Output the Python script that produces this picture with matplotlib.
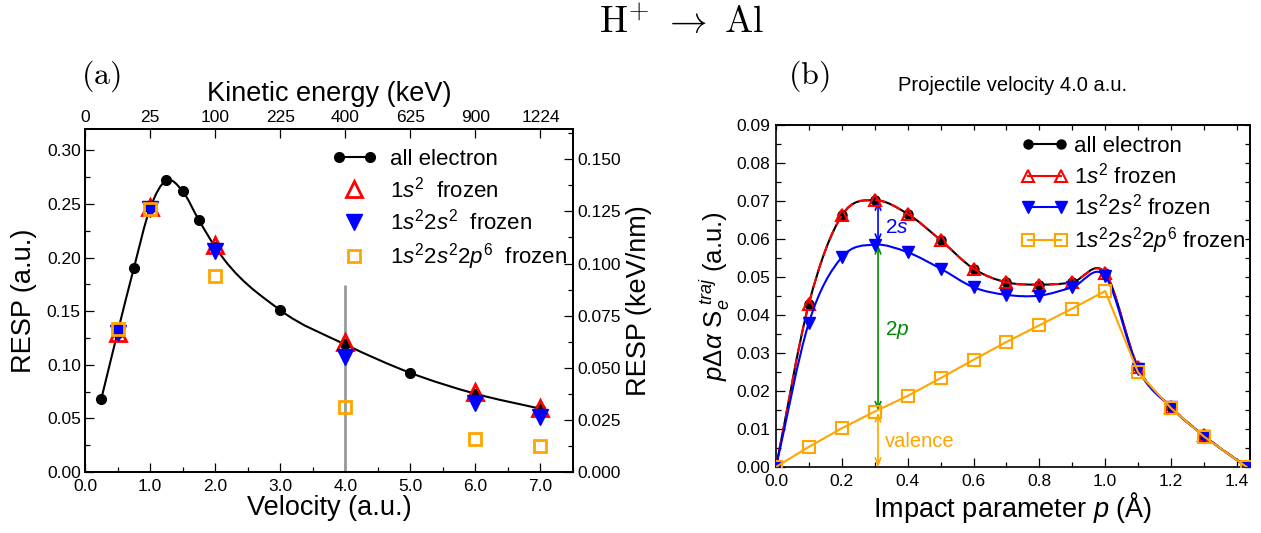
import numpy as np
import matplotlib
matplotlib.use('Agg')
import matplotlib.pyplot as plt
from matplotlib.path import Path
from matplotlib.patches import PathPatch
from matplotlib.lines import Line2D
from matplotlib.legend_handler import HandlerLine2D
from matplotlib.ticker import MultipleLocator, FormatStrFormatter, NullFormatter

# ---- panel (a): RESP vs projectile velocity
velocity_all = [0.25, 0.5, 0.75, 1.0, 1.25, 1.5, 1.75, 2.0, 3.0, 4.0, 5.0, 6.0, 7.0]
resp_all = [0.068, 0.130, 0.190, 0.246, 0.272, 0.262, 0.235, 0.210, 0.151, 0.119, 0.0925, 0.073, 0.059]
velocity_frozen = [0.5, 1.0, 2.0, 4.0, 6.0, 7.0]
resp_1s = [0.130, 0.247, 0.212, 0.121, 0.075, 0.060]
resp_1s2s = [0.130, 0.245, 0.206, 0.107, 0.064, 0.0515]
resp_valence = [0.133, 0.245, 0.183, 0.061, 0.031, 0.024]
energy_tick_velocity = [0, 1, 2, 3, 4, 5, 6, 7]
energy_tick_labels = ['0', '25', '100', '225', '400', '625', '900', '1224']
AU_TO_KEV_NM = 0.5142

# ---- panel (b): impact-parameter resolved stopping at v = 4.0 a.u.
impact = [0.0, 0.1, 0.2, 0.3, 0.4, 0.5, 0.6, 0.7, 0.8, 0.9, 1.0, 1.1, 1.2, 1.3, 1.43]
se_all = [0.0, 0.0430, 0.0662, 0.0702, 0.0666, 0.0597, 0.0522, 0.0486, 0.0480, 0.0486, 0.0511, 0.0262, 0.0157, 0.0082, 0.0]
se_1s = [0.0, 0.0430, 0.0662, 0.0702, 0.0666, 0.0597, 0.0522, 0.0486, 0.0480, 0.0486, 0.0510, 0.0263, 0.0158, 0.0083, 0.0]
se_1s2s = [0.0, 0.0380, 0.0552, 0.0585, 0.0565, 0.0522, 0.0473, 0.0453, 0.0451, 0.0473, 0.0502, 0.0258, 0.0157, 0.0082, 0.0]
se_valence = [0.0, 0.0053, 0.0102, 0.0146, 0.0187, 0.0234, 0.0282, 0.0329, 0.0373, 0.0417, 0.0463, 0.0249, 0.0155, 0.0080, 0.0]

plt.rcParams['font.family'] = ['Liberation Sans', 'DejaVu Sans']
plt.rcParams['mathtext.fontset'] = 'custom'
plt.rcParams['mathtext.rm'] = 'Liberation Sans'
plt.rcParams['mathtext.it'] = 'Liberation Sans:italic'
plt.rcParams['mathtext.bf'] = 'Liberation Sans:bold'
plt.rcParams['axes.linewidth'] = 1.2

RED, BLUE, ORANGE, GREEN = '#ff0000', '#0000ff', '#ffa500', '#008a00'


def smooth_path(x, y):
    """Cubic Hermite curve through the data points, as a Bezier path."""
    x = np.asarray(x, float)
    y = np.asarray(y, float)
    h = np.diff(x)
    d = np.diff(y) / h
    m = np.empty_like(y)
    m[0], m[-1] = d[0], d[-1]
    m[1:-1] = (d[:-1] * h[1:] + d[1:] * h[:-1]) / (h[:-1] + h[1:])
    verts = [(x[0], y[0])]
    codes = [Path.MOVETO]
    for i in range(len(x) - 1):
        verts += [(x[i] + h[i] / 3, y[i] + m[i] * h[i] / 3),
                  (x[i + 1] - h[i] / 3, y[i + 1] - m[i + 1] * h[i] / 3),
                  (x[i + 1], y[i + 1])]
        codes += [Path.CURVE4] * 3
    return Path(verts, codes)


fig = plt.figure(figsize=(12.61, 5.33), dpi=100)
ax = fig.add_axes([85 / 1261, 61 / 533, 488 / 1261, 343 / 533])
bx = fig.add_axes([776 / 1261, 66 / 533, 474 / 1261, 342 / 533])

# ---------------- panel (a)
ax.add_patch(PathPatch(smooth_path(velocity_all, resp_all), fill=False, ec='k', lw=1.5, zorder=3))
ax.plot(velocity_all, resp_all, 'o', color='k', ms=7, zorder=3)
ax.plot(velocity_frozen, resp_1s, '^', mfc='none', mec=RED, ms=12, mew=2, zorder=4)
ax.plot(velocity_frozen, resp_1s2s, 'v', color=BLUE, ms=11, zorder=5)
ax.plot(velocity_frozen, resp_valence, 's', mfc='none', mec=ORANGE, ms=9, mew=2, zorder=6)
ax.vlines(4.0, 0, 0.174, color='#999999', lw=2, zorder=2)

ax.set_xlim(0, 7.5)
ax.set_ylim(0, 0.32)
ax.xaxis.set_major_locator(MultipleLocator(1.0))
ax.xaxis.set_minor_locator(MultipleLocator(0.5))
ax.xaxis.set_major_formatter(FormatStrFormatter('%.1f'))
ax.yaxis.set_major_locator(MultipleLocator(0.05))
ax.yaxis.set_minor_locator(MultipleLocator(0.025))
ax.yaxis.set_major_formatter(FormatStrFormatter('%.2f'))
ax.tick_params(which='both', direction='in', labelsize=12.5, width=0.9)
ax.tick_params(which='major', length=6.5)
ax.tick_params(which='minor', length=3.5)
ax.tick_params(axis='y', pad=3)
ax.tick_params(axis='x', pad=5)
ax.set_xlabel('Velocity (a.u.)', fontsize=19.5, labelpad=1)
ax.set_ylabel('RESP (a.u.)', fontsize=19.5, labelpad=7)

ax_top = ax.twiny()
ax_top.set_xlim(ax.get_xlim())
ax_top.set_xticks(energy_tick_velocity)
ax_top.set_xticklabels(energy_tick_labels)
ax_top.tick_params(direction='in', length=6.5, width=0.9, labelsize=12.5, pad=3)
ax_top.set_xlabel('Kinetic energy (keV)', fontsize=19.5, labelpad=6)

ax_r = ax.twinx()
ax_r.set_ylim(0, 0.32 * AU_TO_KEV_NM)
ax_r.yaxis.set_major_locator(MultipleLocator(0.025))
ax_r.yaxis.set_minor_locator(MultipleLocator(0.0125))
ax_r.yaxis.set_major_formatter(FormatStrFormatter('%.3f'))
ax_r.tick_params(which='both', direction='in', width=0.9, labelsize=12.5, pad=3)
ax_r.tick_params(which='major', length=6.5)
ax_r.tick_params(which='minor', length=3.5)
ax_r.set_ylabel('RESP (keV/nm)', fontsize=19.5, labelpad=4)

handles_a = [
    Line2D([], [], color='k', marker='o', ms=7, lw=1.5),
    Line2D([], [], ls='none', marker='^', mfc='none', mec=RED, ms=12, mew=2),
    Line2D([], [], ls='none', marker='v', color=BLUE, ms=11),
    Line2D([], [], ls='none', marker='s', mfc='none', mec=ORANGE, ms=9, mew=2),
]
labels_a = ['all electron', r'1$s^2$  frozen', r'1$s^2$2$s^2$  frozen', r'1$s^2$2$s^2$2$p^6$  frozen']
single = HandlerLine2D(numpoints=1)
ax_r.legend(handles_a, labels_a, loc='upper left', bbox_to_anchor=(0.506, 0.943),
            frameon=False, fontsize=16, numpoints=2, handlelength=2.0, handletextpad=0.6,
            labelspacing=0.3, borderpad=0, borderaxespad=0,
            handler_map={h: single for h in handles_a[1:]})

# ---------------- panel (b)
bx.add_patch(PathPatch(smooth_path(impact, se_all), fill=False, ec='k', lw=1.5, zorder=3))
bx.plot(impact, se_all, 'o', color='k', ms=6.5, zorder=3)
bx.add_patch(PathPatch(smooth_path(impact, se_1s), fill=False, ec=RED, lw=1.5, ls=(0, (5, 3)), zorder=4))
bx.plot(impact, se_1s, '^', mfc='none', mec=RED, ms=9, mew=1.5, zorder=4)
bx.add_patch(PathPatch(smooth_path(impact, se_1s2s), fill=False, ec=BLUE, lw=1.5, zorder=5))
bx.plot(impact, se_1s2s, 'v', color=BLUE, ms=9, zorder=5)
bx.plot(impact, se_valence, 's-', color=ORANGE, mfc='none', ms=8, mew=1.5, lw=1.5, zorder=6)

x_arrow = 0.31
arrow_kw = dict(shrinkA=0, shrinkB=0, lw=1.2)
bx.annotate('', xy=(x_arrow, 0.0700), xytext=(x_arrow, 0.0589),
            arrowprops=dict(arrowstyle='<->,head_length=0.5,head_width=0.2', color=BLUE, **arrow_kw))
bx.annotate('', xy=(x_arrow, 0.0585), xytext=(x_arrow, 0.0148),
            arrowprops=dict(arrowstyle='<->,head_length=0.5,head_width=0.2', color=GREEN, **arrow_kw))
bx.annotate('', xy=(x_arrow, 0.0143), xytext=(x_arrow, 0.0),
            arrowprops=dict(arrowstyle='<->,head_length=0.5,head_width=0.2', color=ORANGE, **arrow_kw))
bx.text(0.33, 0.0630, r'2$s$', color=BLUE, fontsize=15, va='center')
bx.text(0.33, 0.0360, r'2$p$', color=GREEN, fontsize=15, va='center')
bx.text(0.33, 0.0068, 'valence', color=ORANGE, fontsize=14.5, va='center')

bx.set_xlim(0, 1.44)
bx.set_ylim(0, 0.09)
bx.xaxis.set_major_locator(MultipleLocator(0.2))
bx.xaxis.set_minor_locator(MultipleLocator(0.1))
bx.xaxis.set_major_formatter(FormatStrFormatter('%.1f'))
bx.yaxis.set_major_locator(MultipleLocator(0.01))
bx.yaxis.set_minor_locator(MultipleLocator(0.005))
bx.yaxis.set_major_formatter(FormatStrFormatter('%.2f'))
bx.tick_params(which='both', direction='in', labelsize=12.5, width=0.9)
bx.tick_params(which='major', length=6.5)
bx.tick_params(which='minor', length=3.5)
bx.tick_params(axis='y', pad=4)
bx.tick_params(axis='x', pad=5)
bx.set_xlabel(r'Impact parameter $p$ (Å)', fontsize=19.5, labelpad=1)
bx.set_ylabel(r'$p\Delta\alpha\ \mathrm{S}_e^{\ traj}$ (a.u.)', fontsize=18.5, labelpad=3)

# short ticks on the top and right frame of panel (b)
sec_top = bx.secondary_xaxis('top')
sec_top.xaxis.set_major_locator(MultipleLocator(0.1))
sec_top.xaxis.set_major_formatter(NullFormatter())
sec_top.tick_params(direction='in', length=3.5, width=0.9)
sec_right = bx.secondary_yaxis('right')
sec_right.yaxis.set_major_locator(MultipleLocator(0.005))
sec_right.yaxis.set_major_formatter(NullFormatter())
sec_right.tick_params(direction='in', length=3.5, width=0.9)

handles_b = [
    Line2D([], [], color='k', marker='o', ms=6.5, lw=1.5),
    Line2D([], [], color=RED, marker='^', mfc='none', mec=RED, ms=9, mew=1.5, lw=1.5),
    Line2D([], [], color=BLUE, marker='v', ms=9, lw=1.5),
    Line2D([], [], color=ORANGE, marker='s', mfc='none', ms=8, mew=1.5, lw=1.5),
]
labels_b = ['all electron', r'1$s^2$ frozen', r'1$s^2$2$s^2$ frozen', r'1$s^2$2$s^2$2$p^6$ frozen']
bx.legend(handles_b, labels_b, loc='upper left', bbox_to_anchor=(0.517, 0.968),
          frameon=False, fontsize=16, numpoints=2, handlelength=2.1, handletextpad=0.3,
          labelspacing=0.25, borderpad=0, borderaxespad=0)

# ---------------- figure texts
fig.text(681 / 1261, 1 - 23 / 533, r'$\mathrm{H}^{+}\ \rightarrow\ \mathrm{Al}$',
         ha='center', va='center', fontsize=27, math_fontfamily='cm')
fig.text(101 / 1261, 1 - 76 / 533, r'$\mathrm{(a)}$', ha='center', va='center',
         fontsize=23, math_fontfamily='cm')
fig.text(809 / 1261, 1 - 76 / 533, r'$\mathrm{(b)}$', ha='center', va='center',
         fontsize=23, math_fontfamily='cm')
fig.text(1013 / 1261, 1 - 85 / 533, 'Projectile velocity 4.0 a.u.', ha='center', va='center',
         fontsize=14.5)

fig.savefig('out.png', dpi=100)
